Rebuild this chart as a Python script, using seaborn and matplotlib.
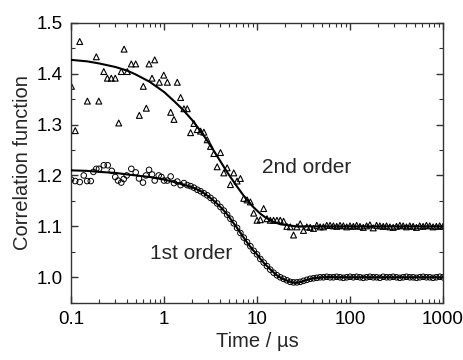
import matplotlib
matplotlib.use("Agg")
import matplotlib.pyplot as plt
import matplotlib.ticker as mticker
import seaborn as sns
import pandas as pd

# ---------------- data ----------------
# 1st order, scattered early channels
t1_early = [0.100, 0.111, 0.124, 0.137, 0.149, 0.163, 0.174, 0.187, 0.200, 0.225,
            0.248, 0.274, 0.299, 0.320, 0.347, 0.369, 0.397, 0.445, 0.496, 0.538,
            0.594, 0.640, 0.690, 0.743, 0.794, 0.877, 0.938, 1.000]
g1_early = [1.192, 1.189, 1.187, 1.200, 1.189, 1.189, 1.207, 1.213, 1.213, 1.220,
            1.220, 1.209, 1.197, 1.190, 1.186, 1.193, 1.200, 1.213, 1.206, 1.194,
            1.186, 1.200, 1.211, 1.202, 1.190, 1.200, 1.197, 1.190]

# 2nd order, scattered early channels
t2_early = [0.101, 0.111, 0.124, 0.150, 0.187, 0.199, 0.225, 0.246, 0.271, 0.299,
            0.326, 0.347, 0.372, 0.403, 0.445, 0.496, 0.543, 0.599, 0.645, 0.690,
            0.743, 0.794, 0.890, 0.993]
g2_early = [1.375, 1.288, 1.463, 1.346, 1.433, 1.346, 1.404, 1.391, 1.391, 1.391,
            1.303, 1.404, 1.448, 1.404, 1.419, 1.419, 1.318, 1.375, 1.332, 1.419,
            1.391, 1.427, 1.383, 1.397]

# shared later channels (us)
t_late = [1.086, 1.179, 1.280, 1.389, 1.508, 1.638, 1.778, 1.931, 2.096, 2.276,
          2.471, 2.683, 2.913, 3.162, 3.434, 3.728, 4.048, 4.394, 4.771, 5.179,
          5.623, 6.105, 6.629, 7.197, 7.814, 8.483, 9.211, 10.00,
          10.86, 11.79, 12.80, 13.89, 15.08, 16.38, 17.78, 19.31, 20.96, 22.76,
          24.71, 26.83, 29.13, 31.62, 34.34, 37.28, 40.48, 43.94, 47.71, 51.79,
          56.23, 61.05, 66.29, 71.97, 78.14, 84.83, 92.11, 100.0,
          108.6, 117.9, 128.0, 138.9, 150.8, 163.8, 177.8, 193.1, 209.6, 227.6,
          247.1, 268.3, 291.3, 316.2, 343.4, 372.8, 404.8, 439.4, 477.1, 517.9,
          562.3, 610.5, 662.9, 719.7, 781.4, 848.3, 921.1, 1000.0]
g1_late = [1.190, 1.198, 1.185, 1.188, 1.181, 1.185, 1.181, 1.179, 1.176, 1.172,
           1.169, 1.165, 1.161, 1.156, 1.151, 1.145, 1.138, 1.131, 1.123, 1.115,
           1.106, 1.097, 1.087, 1.078, 1.069, 1.061, 1.052, 1.045,
           1.036, 1.029, 1.022, 1.015, 1.009, 1.004, 1.000, 0.997, 0.994, 0.991,
           0.990, 0.990, 0.991, 0.993, 0.995, 0.997, 0.998, 0.999, 1.000, 1.000,
           1.001, 1.000, 1.000, 1.001, 1.000, 0.999, 1.000, 1.001,
           1.000, 1.001, 1.000, 0.999, 1.000, 1.001, 1.000, 1.000, 0.999, 1.001,
           1.000, 1.000, 1.001, 1.000, 0.999, 1.000, 1.001, 1.000, 1.000, 0.999,
           1.000, 1.001, 1.000, 1.000, 0.999, 1.000, 1.001, 1.000]
g2_late = [1.383, 1.324, 1.310, 1.383, 1.353, 1.331, 1.331, 1.284, 1.302, 1.290,
           1.287, 1.285, 1.270, 1.257, 1.243, 1.217, 1.245, 1.205, 1.215, 1.182,
           1.205, 1.189, 1.194, 1.155, 1.152, 1.148, 1.126, 1.112,
           1.113, 1.135, 1.115, 1.112, 1.112, 1.112, 1.112, 1.110, 1.100, 1.099,
           1.083, 1.099, 1.105, 1.092, 1.099, 1.098, 1.096, 1.102, 1.099, 1.099,
           1.102, 1.102, 1.101, 1.100, 1.102, 1.101, 1.099, 1.101,
           1.100, 1.102, 1.100, 1.098, 1.101, 1.103, 1.097, 1.102, 1.101, 1.100,
           1.101, 1.099, 1.098, 1.100, 1.102, 1.101, 1.099, 1.101, 1.100, 1.098,
           1.101, 1.100, 1.102, 1.101, 1.099, 1.100, 1.101, 1.100]

# fitted curves
fit_t = [0.1, 0.15, 0.2, 0.3, 0.4, 0.5, 0.7, 1.0, 1.3, 1.6, 2.0, 2.5, 3.0, 3.5,
         4.0, 4.5, 5.0, 5.5, 6.0, 7.0, 8.0, 9.0, 10, 11, 12, 13, 14, 15, 16, 18,
         20, 22, 24, 26, 28, 30, 33, 36, 40, 45, 50, 60, 80, 100, 200, 500, 1000]
fit_g1 = [1.210, 1.209, 1.207, 1.205, 1.202, 1.200, 1.197, 1.192, 1.187, 1.182,
          1.177, 1.169, 1.159, 1.149, 1.139, 1.129, 1.119, 1.108, 1.099, 1.081,
          1.066, 1.054, 1.045, 1.035, 1.027, 1.021, 1.015, 1.010, 1.005, 0.999,
          0.995, 0.992, 0.990, 0.989, 0.990, 0.991, 0.994, 0.996, 0.998, 0.999,
          1.000, 1.0005, 1.000, 1.000, 1.000, 1.000, 1.000]
fit_g2 = [1.427, 1.424, 1.420, 1.413, 1.406, 1.398, 1.384, 1.364, 1.345, 1.329,
          1.309, 1.286, 1.265, 1.246, 1.229, 1.214, 1.201, 1.190, 1.180, 1.163,
          1.150, 1.139, 1.131, 1.124, 1.119, 1.115, 1.112, 1.109, 1.107, 1.104,
          1.103, 1.102, 1.101, 1.100, 1.100, 1.100, 1.100, 1.100, 1.100, 1.100,
          1.100, 1.100, 1.100, 1.100, 1.100, 1.100, 1.100]

x_ticks = [0.1, 1, 10, 100, 1000]
x_tick_labels = ["0.1", "1", "10", "100", "1000"]
y_ticks = [1.0, 1.1, 1.2, 1.3, 1.4, 1.5]
y_tick_labels = ["1.0", "1.1", "1.2", "1.3", "1.4", "1.5"]

# ---------------- plotting ----------------
sns.set_style("ticks")
plt.rcParams["font.family"] = ["Liberation Sans", "DejaVu Sans"]

df1 = pd.DataFrame({"t": t1_early + t_late, "g": g1_early + g1_late})
df2 = pd.DataFrame({"t": t2_early + t_late, "g": g2_early + g2_late})
dff = pd.DataFrame({"t": fit_t, "g1": fit_g1, "g2": fit_g2})

fig = plt.figure(figsize=(4.63, 3.60), dpi=100)
ax = fig.add_axes([0.1534, 0.159, 0.8034, 0.778])

sns.scatterplot(data=df2, x="t", y="g", marker="^", s=18, facecolors="none",
                edgecolors="black", linewidths=0.8, ax=ax, zorder=2)
sns.scatterplot(data=df1, x="t", y="g", marker="o", s=16, facecolors="none",
                edgecolors="black", linewidths=0.7, ax=ax, zorder=2)
sns.lineplot(data=dff, x="t", y="g1", color="black", lw=1.5, ax=ax, zorder=3)
sns.lineplot(data=dff, x="t", y="g2", color="black", lw=1.5, ax=ax, zorder=3)

ax.set_xscale("log")
ax.set_xlim(0.1, 1000)
ax.set_ylim(0.95, 1.5)
ax.set_xticks(x_ticks)
ax.set_xticklabels(x_tick_labels)
ax.set_yticks(y_ticks)
ax.set_yticklabels(y_tick_labels)
ax.xaxis.set_minor_locator(mticker.LogLocator(base=10, subs=range(2, 10), numticks=20))
ax.xaxis.set_minor_formatter(mticker.NullFormatter())
ax.yaxis.set_minor_locator(mticker.MultipleLocator(0.05))

ax.tick_params(which="both", direction="in", top=True, right=True, colors="#333333",
               labelcolor="black", labelsize=13.5)
ax.tick_params(which="major", length=5, width=1, pad=6)
ax.tick_params(which="minor", length=3, width=0.8)
for sp in ax.spines.values():
    sp.set_color("#333333")
    sp.set_linewidth(1.0)

ax.set_xlabel("Time / µs", fontsize=14.5, labelpad=3)
ax.set_ylabel("Correlation function", fontsize=14.5, labelpad=3)

ax.text(11.3, 1.215, "2nd order", fontsize=15, ha="left", va="center")
ax.text(0.70, 1.047, "1st order", fontsize=15, ha="left", va="center")

fig.savefig("out.png", dpi=100)
